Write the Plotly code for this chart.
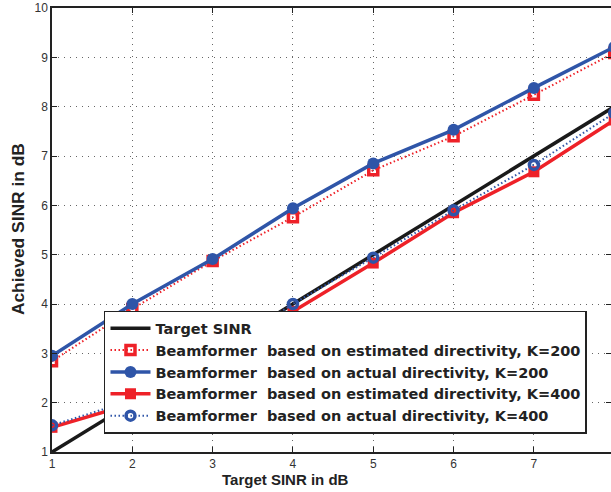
import plotly.graph_objects as go

x_vals = [1, 2, 3, 4, 5, 6, 7, 8]
target = [1, 2, 3, 4, 5, 6, 7, 8]
est_k200 = [2.84, 3.90, 4.87, 5.76, 6.71, 7.40, 8.24, 9.09]
act_k200 = [2.95, 4.00, 4.91, 5.94, 6.85, 7.53, 8.38, 9.21]
est_k400 = [1.50, 1.98, 2.90, 3.85, 4.83, 5.85, 6.68, 7.73]
act_k400 = [1.54, 2.05, 2.98, 4.00, 4.94, 5.90, 6.82, 7.87]

names = [
    "Target SINR",
    "Beamformer  based on estimated directivity, K=200",
    "Beamformer  based on actual directivity, K=200",
    "Beamformer  based on estimated directivity, K=400",
    "Beamformer  based on actual directivity, K=400",
]
x_title = "Target SINR in dB"
y_title = "Achieved SINR in dB"

BLUE = "#2F55A8"
RED = "#EE2128"
FONT = "Liberation Sans, Arial, sans-serif"
LEG_FONT = "DejaVu Sans, Liberation Sans, sans-serif"

fig = go.Figure()
fig.add_trace(go.Scatter(x=x_vals, y=target, name="<b>" + names[0] + "</b>", mode="lines",
                         line=dict(color="#1a1a1a", width=3.5)))
fig.add_trace(go.Scatter(x=x_vals, y=est_k200, name="<b>" + names[1] + "</b>", mode="lines+markers",
                         line=dict(color=RED, width=2, dash="1.5px,2.5px"),
                         marker=dict(symbol="square-open", size=9, color=RED,
                                     line=dict(color=RED, width=3.5))))
fig.add_trace(go.Scatter(x=x_vals, y=act_k200, name="<b>" + names[2] + "</b>", mode="lines+markers",
                         line=dict(color=BLUE, width=3.5),
                         marker=dict(symbol="circle", size=12, color=BLUE)))
fig.add_trace(go.Scatter(x=x_vals, y=est_k400, name="<b>" + names[3] + "</b>", mode="lines+markers",
                         line=dict(color=RED, width=3.5),
                         marker=dict(symbol="square", size=11, color=RED)))
fig.add_trace(go.Scatter(x=x_vals, y=act_k400, name="<b>" + names[4] + "</b>", mode="lines+markers",
                         line=dict(color=BLUE, width=2, dash="1.5px,2.5px"),
                         marker=dict(symbol="circle-open", size=9, color=BLUE,
                                     line=dict(color=BLUE, width=3.5))))

axis_common = dict(
    showline=True, linecolor="#222", linewidth=1.5, mirror="ticks",
    ticks="inside", ticklen=5, tickcolor="#222",
    showgrid=True, gridcolor="#666", griddash="1px,5px", gridwidth=1,
    zeroline=False, automargin=False,
    tickfont=dict(family=FONT, size=12, color="#333"),
)

fig.update_layout(
    width=611, height=492,
    margin=dict(l=52, r=0, t=8, b=40, autoexpand=False),
    plot_bgcolor="white", paper_bgcolor="white",
    font=dict(family=FONT, color="#222"),
    xaxis=dict(range=[1, 7.96], dtick=1, **axis_common),
    yaxis=dict(range=[1, 10], dtick=1, **axis_common),
    legend=dict(x=0.093, y=0.318, xanchor="left", yanchor="top",
                bgcolor="white", bordercolor="#222", borderwidth=1.5,
                font=dict(size=14.5, color="#222", family=LEG_FONT),
                tracegroupgap=0, itemwidth=40),
    showlegend=True,
    annotations=[
        dict(text="<b>" + x_title + "</b>", xref="paper", yref="paper",
             x=0.417, y=-0.061, xanchor="center", yanchor="middle", showarrow=False,
             font=dict(size=15, color="#222", family=FONT)),
        dict(text="<b>" + y_title + "</b>", xref="paper", yref="paper",
             x=-0.0608, y=0.502, xanchor="center", yanchor="middle", showarrow=False,
             textangle=-90, font=dict(size=17.4, color="#222", family=FONT)),
    ],
)

fig.write_html("out.html", config={"displayModeBar": False},
               post_script="document.body.style.margin='0';")
